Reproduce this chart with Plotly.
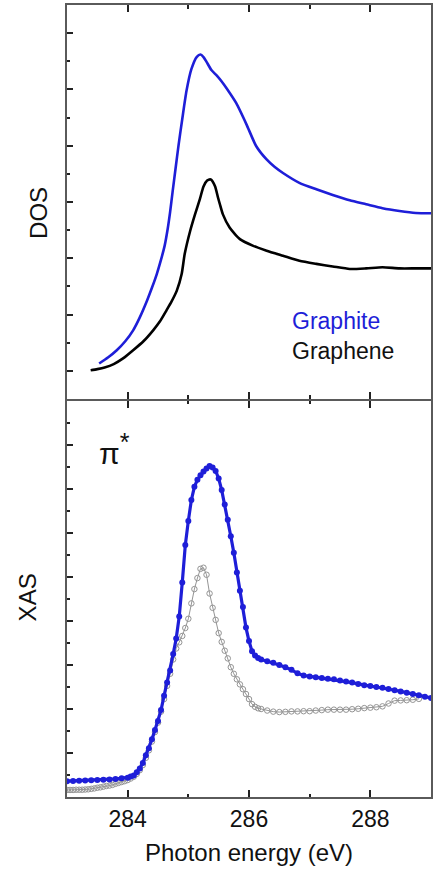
import numpy as np
import plotly.graph_objects as go

# ---------------- DOS (upper panel) ----------------
graphite_e = [283.53, 283.68, 283.82, 283.96, 284.09, 284.20, 284.32, 284.40, 284.48, 284.55,
              284.61, 284.66, 284.70, 284.74, 284.79, 284.84, 284.90, 284.97, 285.05, 285.14,
              285.20, 285.25, 285.30, 285.38, 285.47, 285.55, 285.63, 285.79, 285.96, 286.12,
              286.29, 286.42, 286.56, 286.83, 287.11, 287.38, 287.66, 287.93, 288.20, 288.48,
              288.75, 289.00]
graphite_dos = [1.26, 1.48, 1.73, 2.05, 2.44, 2.90, 3.50, 3.95, 4.44, 4.95,
                5.45, 6.05, 6.65, 7.35, 8.20, 9.04, 9.95, 10.95, 11.72, 12.16,
                12.24, 12.15, 11.98, 11.69, 11.49, 11.28, 11.04, 10.51, 9.75, 8.98,
                8.51, 8.25, 8.03, 7.68, 7.45, 7.25, 7.06, 6.92, 6.78, 6.68,
                6.61, 6.60]

graphene_e = [283.39, 283.50, 283.62, 283.77, 283.93, 284.09, 284.26, 284.42, 284.53, 284.64,
              284.72, 284.81, 284.89, 284.94, 285.03, 285.11, 285.19, 285.25, 285.31, 285.37,
              285.44, 285.49, 285.52, 285.57, 285.68, 285.85, 286.07, 286.29, 286.56, 286.83,
              287.11, 287.38, 287.66, 287.93, 288.20, 288.48, 288.75, 289.00]
graphene_dos = [1.02, 1.06, 1.12, 1.24, 1.45, 1.73, 2.05, 2.44, 2.75, 3.15,
                3.45, 3.85, 4.44, 5.15, 5.97, 6.56, 7.10, 7.55, 7.76, 7.80,
                7.56, 7.15, 6.92, 6.56, 6.09, 5.68, 5.44, 5.27, 5.09, 4.91,
                4.80, 4.71, 4.62, 4.64, 4.68, 4.64, 4.64, 4.64]

# ---------------- XAS (lower panel) ----------------
# graphite: filled dots, sampled every 0.1 eV on the flat parts and 0.05 eV across the edge
xas_graphite_e = np.concatenate([
    np.round(np.arange(283.0, 284.0 + 1e-9, 0.1), 2),
    np.round(np.arange(284.05, 286.15 + 1e-9, 0.05), 2),
    np.round(np.arange(286.2, 289.0 + 1e-9, 0.1), 2),
])
xas_graphite = [
    0.72, 0.73, 0.74, 0.75, 0.76, 0.77, 0.78, 0.80, 0.82, 0.85, 0.88,
    0.93, 0.98, 1.12, 1.30, 1.55, 1.90, 2.22, 2.62, 3.05, 3.45,
    3.95, 4.60, 5.20, 5.75, 6.50, 7.20, 8.20, 9.75, 11.45, 12.55,
    13.50, 14.10, 14.42, 14.62, 14.80, 14.93, 15.04, 14.98, 14.82, 14.48,
    13.95, 13.30, 12.60, 11.85, 11.10, 10.20, 9.37, 8.64, 7.70, 7.09,
    6.62, 6.43, 6.32,
    6.25, 6.17, 6.10, 6.00, 5.90, 5.78, 5.62, 5.52, 5.48, 5.44,
    5.41, 5.38, 5.35, 5.30, 5.25, 5.20, 5.14, 5.08, 5.04, 5.00,
    4.96, 4.91, 4.85, 4.80, 4.74, 4.68, 4.62, 4.56, 4.50,
]

# graphene: open circles
xas_graphene_e = np.concatenate([
    np.round(np.arange(283.0, 286.2 + 1e-9, 0.05), 2),
    np.round(np.arange(286.3, 288.8 + 1e-9, 0.1), 2),
])
xas_graphene = [
    0.32, 0.32, 0.32, 0.33, 0.33, 0.33, 0.34, 0.35, 0.37, 0.39,
    0.42, 0.44, 0.47, 0.50, 0.52, 0.55, 0.60, 0.64, 0.68, 0.72, 0.77,
    0.84, 0.92, 1.05, 1.22, 1.45, 1.78, 2.12, 2.52, 2.95, 3.38,
    3.88, 4.45, 5.05, 5.60, 6.25, 6.75, 7.03, 7.32, 7.68, 8.10,
    8.80, 9.45, 9.95, 10.37,
    10.42, 10.10, 9.25, 8.60, 8.05, 7.45, 7.05, 6.65, 6.30, 5.90,
    5.60, 5.35, 5.12, 4.90, 4.68, 4.45, 4.22, 4.10, 4.03, 4.00,
    3.93, 3.88, 3.86, 3.87, 3.89, 3.89, 3.90, 3.90, 3.93, 3.95,
    3.97, 3.97, 3.97, 3.97, 3.99, 4.01, 4.04, 4.06, 4.08, 4.12,
    4.25, 4.38, 4.39, 4.40, 4.42, 4.46,
]

assert len(xas_graphite_e) == len(xas_graphite)
assert len(xas_graphene_e) == len(xas_graphene)

BLUE = "#1e1ed8"
GRAY = "#949494"
FONT = "Liberation Sans, Arial, sans-serif"

fig = go.Figure()

fig.add_trace(go.Scatter(x=graphite_e, y=graphite_dos, mode="lines", line=dict(color=BLUE, width=2.6, shape="spline", smoothing=0.6),
                         xaxis="x", yaxis="y", showlegend=False))
fig.add_trace(go.Scatter(x=graphene_e, y=graphene_dos, mode="lines", line=dict(color="#000000", width=2.6, shape="spline", smoothing=0.6),
                         xaxis="x", yaxis="y", showlegend=False))

fig.add_trace(go.Scatter(x=xas_graphene_e, y=xas_graphene, mode="lines+markers",
                         line=dict(color=GRAY, width=1),
                         marker=dict(symbol="circle-open", size=5.5, color=GRAY, line=dict(width=1)),
                         xaxis="x2", yaxis="y2", showlegend=False))
fig.add_trace(go.Scatter(x=xas_graphite_e, y=xas_graphite, mode="lines+markers",
                         line=dict(color=BLUE, width=3.2),
                         marker=dict(symbol="circle", size=6, color=BLUE),
                         xaxis="x2", yaxis="y2", showlegend=False))

# the two panels share one frame line: leave a 2 px gap so both axis lines land on it
PLOT_H = 794.0
SPLIT = 0.5013
TOP_START = SPLIT + 1.0 / PLOT_H
BOT_END = SPLIT - 1.0 / PLOT_H

axis_common = dict(showgrid=False, zeroline=False, showline=True, linecolor="#5a5a5a", linewidth=2,
                   ticks="inside", tickcolor="#222222", tickwidth=1.5)

fig.update_layout(
    width=442, height=872,
    margin=dict(l=67, r=11, t=3, b=75),
    paper_bgcolor="white", plot_bgcolor="white",
    font=dict(family=FONT, size=23, color="#111111"),
    xaxis=dict(domain=[0, 1], anchor="y", range=[283, 289], tick0=284, dtick=2, ticklen=7,
               minor=dict(ticks="inside", dtick=1, ticklen=3.5, tickcolor="#222222", tickwidth=1.5),
               showticklabels=False, mirror="ticks", **axis_common),
    yaxis=dict(domain=[TOP_START, 1], anchor="x", range=[0, 14], tick0=1, dtick=2, ticklen=6,
               minor=dict(ticks="inside", dtick=1, ticklen=3, tickcolor="#222222", tickwidth=1.5),
               showticklabels=False, mirror=True, **axis_common),
    xaxis2=dict(domain=[0, 1], anchor="y2", range=[283, 289], tick0=284, dtick=2, ticklen=7,
                minor=dict(ticks="inside", dtick=1, ticklen=3.5, tickcolor="#222222", tickwidth=1.5),
                showticklabels=True, tickfont=dict(size=23), mirror="ticks",
                title=dict(text="Photon energy (eV)", font=dict(size=24), standoff=14),
                **axis_common),
    yaxis2=dict(domain=[0, BOT_END], anchor="x2", range=[0, 18], tick0=0, dtick=2, ticklen=6,
                minor=dict(ticks="inside", dtick=1, ticklen=3, tickcolor="#222222", tickwidth=1.5),
                showticklabels=False, mirror=True, **axis_common),
)

annotations = [
    dict(text="DOS", xref="paper", yref="paper", x=-0.078, y=0.737, textangle=-90,
         showarrow=False, font=dict(size=24), xanchor="center", yanchor="middle"),
    dict(text="XAS", xref="paper", yref="paper", x=-0.11, y=0.252, textangle=-90,
         showarrow=False, font=dict(size=24), xanchor="center", yanchor="middle"),
    dict(text="Graphite", xref="x", yref="y", x=286.67, y=2.76, showarrow=False,
         font=dict(size=23, color=BLUE), xanchor="left", yanchor="middle"),
    dict(text="Graphene", xref="x", yref="y", x=286.67, y=1.70, showarrow=False,
         font=dict(size=23, color="#111111"), xanchor="left", yanchor="middle"),
    dict(text="π<sup><span style='font-size:25px'>*</span></sup>", xref="x2", yref="y2",
         x=283.50, y=15.8, showarrow=False,
         font=dict(size=30, color="#111111"), xanchor="left", yanchor="middle"),
]
fig.update_layout(annotations=annotations)

fig.write_html("out.html")
